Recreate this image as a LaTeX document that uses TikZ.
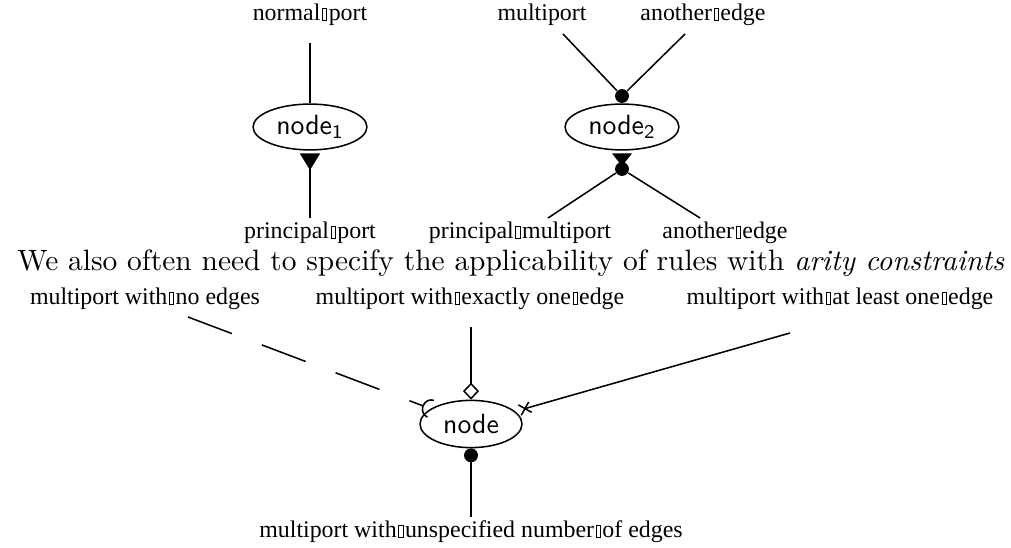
\documentclass[tikz,border=0pt]{standalone}
\usepackage{fontspec}
\newfontfamily\labelfont{Liberation Serif}
\usetikzlibrary{arrows.meta,shapes.geometric}

% small empty box standing between some words of the labels
\newcommand\gapbox{\kern0.6pt\hbox{\vrule width0.25pt\vbox to 4.8pt{\hrule width1.3pt height0.25pt\vfil\hrule height0.25pt}\vrule width0.25pt}\kern0.6pt}

\tikzset{
  lbl/.style={font=\labelfont\fontsize{8.6pt}{10pt}\selectfont, inner sep=0pt, anchor=base},
  proc/.style={ellipse, draw, line width=0.55pt, minimum width=41pt, minimum height=16.5pt, inner sep=0pt, font=\sffamily},
  wire/.style={line width=0.55pt},
  portdot/.style={circle, fill, inner sep=0pt, minimum size=5pt},
}

\begin{document}
\begin{tikzpicture}[x=0.36pt,y=-0.36pt]
\useasboundingbox (0,0) rectangle (1011,548);

% node 1: normal port above, principal port below
\node[lbl] (np) at (310,21) {normal\gapbox port};
\node[proc] (n1) at (310,127) {node\textsubscript{1}};
\node[lbl] (pp) at (310,239) {principal\gapbox port};
\coordinate (npend) at (310,43);
\coordinate (ppend) at (310,218);
\draw[wire] (npend) -- (n1);
\draw[wire, -{Triangle[reversed, length=6pt, width=7.2pt]}, shorten >=1pt] (ppend) -- (n1);

% node 2: multiports
\node[lbl] (mp) at (542,21) {multiport};
\node[lbl] (ae1) at (703,21) {another\gapbox edge};
\node[proc] (n2) at (622,127) {node\textsubscript{2}};
\node[portdot] (d2t) at (622,96) {};
\node[portdot] (d2b) at (622,169) {};
\node[lbl] (pm) at (520,239) {principal\gapbox multiport};
\node[lbl] (ae2) at (725,239) {another\gapbox edge};
\coordinate (mpend) at (563,34);
\coordinate (ae1end) at (685,34);
\coordinate (pmend) at (548,218);
\coordinate (ae2end) at (700,218);
\draw[wire] (mpend) -- (d2t);
\draw[wire] (ae1end) -- (d2t);
\draw[wire, -{Triangle[reversed, length=4.6pt, width=7pt]}, shorten >=1pt] (d2b) -- (n2);
\draw[wire] (d2b) -- (pmend);
\draw[wire] (d2b) -- (ae2end);

% sentence
\node[font=\fontsize{10.6pt}{12.7pt}\selectfont, anchor=base, inner sep=0pt] (txt) at (511,271)
  {We also often need to specify the applicability of rules with \textit{arity constraints}};

% arity constraints
\node[lbl] (zero) at (145,305) {multiport with\gapbox no edges};
\node[lbl] (one) at (470,305) {multiport with\gapbox exactly one\gapbox edge};
\node[lbl] (many) at (840,305) {multiport with\gapbox at least one\gapbox edge};
\node[proc, minimum width=36.7pt, minimum height=17pt] (bn) at (471,424) {node};
\node[lbl] (any) at (471,538) {multiport with\gapbox unspecified number\gapbox of edges};
\coordinate (zeroend) at (188,317);
\coordinate (oneend) at (471,327);
\coordinate (manyend) at (790,333);
\coordinate (anyend) at (471,517);
\draw[wire, dash pattern=on 16.9pt off 11.5pt, -{Arc Barb[reversed, length=3.2pt, width=7pt]}] (zeroend) -- (bn);
\draw[wire, -{Diamond[open, length=6.1pt, width=5.8pt]}] (oneend) -- (bn);
\draw[wire, -{Rays[n=4, length=5.5pt]}, shorten >=1.5pt] (manyend) -- (bn);
\draw[wire, -{Circle[length=5pt]}] (anyend) -- (bn);
\end{tikzpicture}
\end{document}
